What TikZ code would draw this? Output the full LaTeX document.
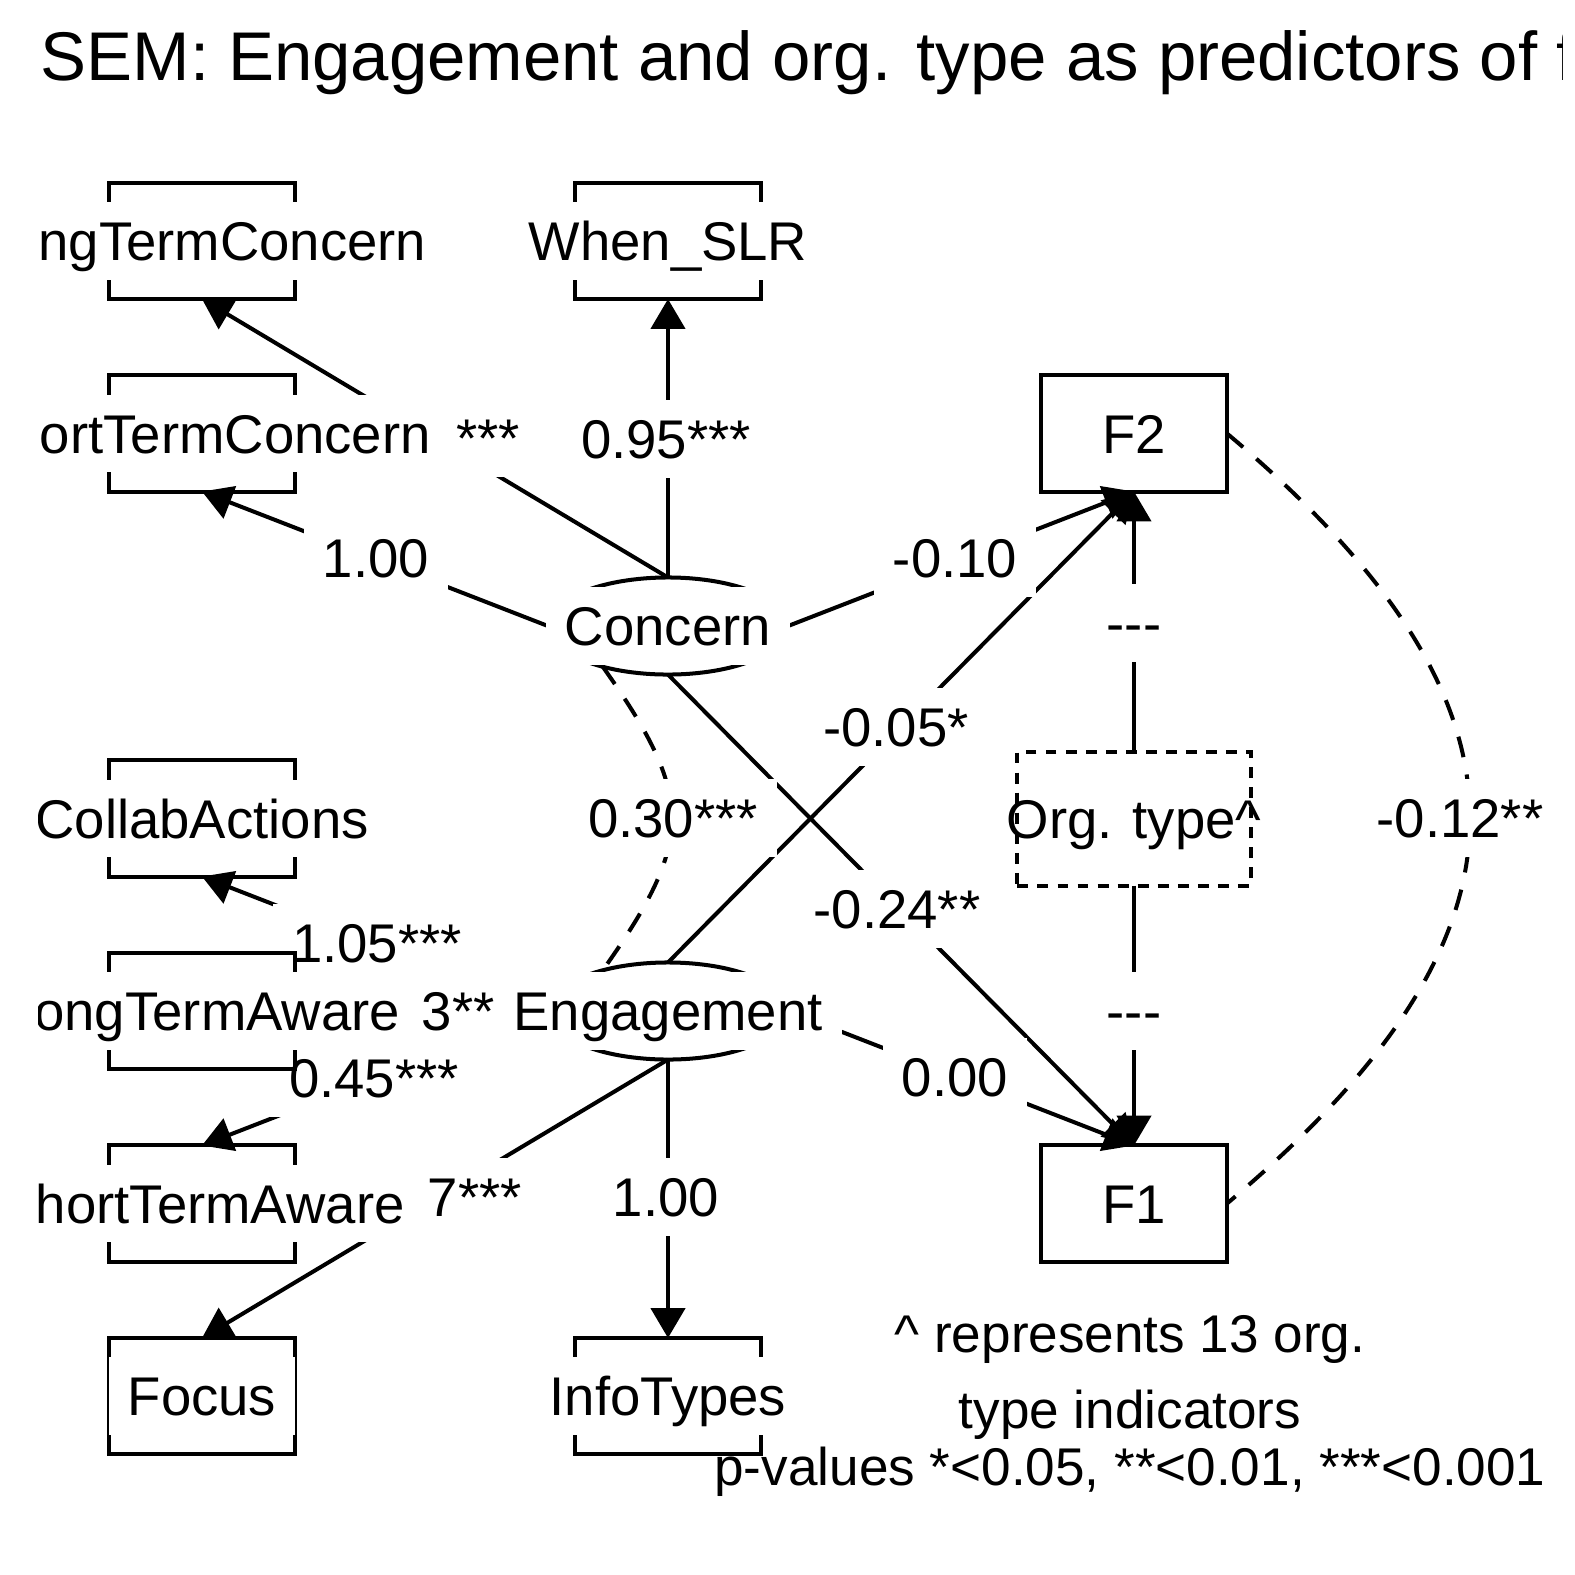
\documentclass[tikz,border=0pt]{standalone}
\usepackage{fontspec}
\setmainfont{Liberation Sans}
\usetikzlibrary{arrows.meta,shapes.geometric}
\pgfdeclarelayer{edgelayer}
\pgfdeclarelayer{labellayer}
\pgfdeclarelayer{textlayer}
\pgfsetlayers{edgelayer,labellayer,main,textlayer}
\begin{document}
\begin{tikzpicture}[x=0.01cm,y=-0.01cm,
  mbox/.style={draw,line width=1.14pt,minimum width=52.9pt,minimum height=33pt,inner sep=0pt,outer sep=0pt},
  obox/.style={draw,line width=1.14pt,dash pattern=on 3.1pt off 2.6pt,minimum width=66.3pt,minimum height=38.1pt,inner sep=0pt,outer sep=0pt},
  lat/.style={ellipse,draw,line width=1.14pt,minimum width=68.3pt,minimum height=27.6pt,inner sep=0pt,outer sep=0pt},
  txt/.style={fill=white,font=\fontsize{15.5pt}{18pt}\selectfont,inner xsep=5.4pt,inner ysep=5.4pt,text height=11.2pt,text depth=0pt},
  lab/.style={txt},
  plaintxt/.style={font=\fontsize{15.5pt}{18pt}\selectfont,inner sep=0pt,text height=11.2pt,text depth=0pt},
  reg/.style={line width=1.14pt,-{Triangle[length=8.5pt,width=9.7pt]}},
  cov/.style={line width=1.14pt,dash pattern=on 6pt off 5pt},
  legend/.style={font=\fontsize{15.1pt}{18pt}\selectfont,inner sep=0pt,anchor=base},
  titlestyle/.style={font=\fontsize{19.6pt}{23pt}\selectfont,inner sep=0pt,anchor=base west},
]
\useasboundingbox (0,0) rectangle (1575,1575);

% ---- node boxes (main layer)
\node[mbox] (ltc) at (202,241) {};
\node[mbox] (wslr) at (668,241) {};
\node[mbox] (stc) at (202,433.5) {};
\node[mbox] (f2) at (1134,433.5) {};
\node[lat] (concern) at (668,626) {};
\node[mbox] (ca) at (202,818.5) {};
\node[obox] (org) at (1134,818.5) {};
\node[mbox] (lta) at (202,1011) {};
\node[lat] (eng) at (668,1011) {};
\node[mbox] (sta) at (202,1203.5) {};
\node[mbox] (f1) at (1134,1203.5) {};
\node[mbox] (focus) at (202,1396) {};
\node[mbox] (info) at (668,1396) {};

% ---- edges
\begin{pgfonlayer}{edgelayer}
\fill[white] (0,0) rectangle (1575,1575);
\draw[reg] (concern.north) -- (ltc.south);
\draw[reg] (concern.north) -- (wslr.south);
\draw[reg] (concern.west) -- (stc.south);
\draw[reg] (concern.east) -- (f2.south);
\draw[reg] (concern.south) -- (f1.north);
\draw[reg] (eng.west) -- (ca.south);
\draw[reg] (eng.west) -- (lta.east);
\draw[reg] (eng.west) -- (sta.north);
\draw[reg] (eng.south) -- (focus.north);
\draw[reg] (eng.south) -- (info.north);
\draw[reg] (eng.north) -- (f2.south);
\draw[reg] (eng.east) -- (f1.north);
\draw[reg] (org.north) -- (f2.south);
\draw[reg] (org.south) -- (f1.north);
\draw[cov] (concern.212) .. controls +(92,130) and +(92,-130) .. (eng.148);
\draw[cov] (f2.east) .. controls +(324,272) and +(324,-272) .. (f1.east);
\end{pgfonlayer}

% ---- edge labels
\begin{pgfonlayer}{labellayer}
\node[lab] (l-ltc) at (435,438) {\phantom{0.00}***};
\node[lab] (l-wslr) at (666,439) {0.95***};
\node[lab] (l-stc) at (376,558) {1.00};
\node[lab] (l-cf2) at (955,558) {-0.10};
\node[lab] (l-ef2) at (896,727) {-0.05*};
\node[lab] (l-cov1) at (673,818) {0.30***};
\node[lab] (l-cf1) at (897,909) {-0.24**};
\node[lab] (l-of2) at (1134,623) {{-}{-}{-}};
\node[lab] (l-of1) at (1134,1011) {{-}{-}{-}};
\node[lab] (l-cov2) at (1460,818) {-0.12**};
\node[lab] (l-ca) at (377,943) {1.05***};
\node[lab] (l-lta) at (431,1011) {\phantom{0.0}3***};
\node[lab] (l-sta) at (374,1078) {0.45***};
\node[lab] (l-focus) at (437,1197) {\phantom{0.0}7***};
\node[lab] (l-info) at (666,1197) {1.00};
\node[lab] (l-ef1) at (955,1077) {0.00};
\end{pgfonlayer}

% ---- node texts
\begin{pgfonlayer}{textlayer}
\begin{scope}
\clip (38,0) rectangle (1562,1575);
\node[titlestyle] (title) at (40,80) {SEM: Engagement and org. type as predictors of f};
\node[txt] (ltc-t) at (ltc) {LongTermConcern};
\node[txt] (wslr-t) at (wslr) {When\_SLR};
\node[txt] (stc-t) at (stc) {ShortTermConcern};
\node[txt] (f2-t) at (f2) {F2};
\node[txt] (concern-t) at (concern) {Concern};
\node[txt] (ca-t) at (ca) {CollabActions};
\node[plaintxt] (org-t) at (org) {Org. type\textasciicircum};
\node[txt] (lta-t) at (lta) {LongTermAware};
\node[txt] (eng-t) at (eng) {Engagement};
\node[txt] (sta-t) at (sta) {ShortTermAware};
\node[txt] (f1-t) at (f1) {F1};
\node[txt] (focus-t) at (focus) {Focus};
\node[txt] (info-t) at (info) {InfoTypes};
\node[legend] (leg1) at (1130,1352) {\textasciicircum{} represents 13 org.};
\node[legend] (leg2) at (1130,1428) {type indicators};
\node[legend] (leg3) at (1130,1485) {p-values *<0.05, **<0.01, ***<0.001};
\end{scope}
\end{pgfonlayer}
\end{tikzpicture}
\end{document}
